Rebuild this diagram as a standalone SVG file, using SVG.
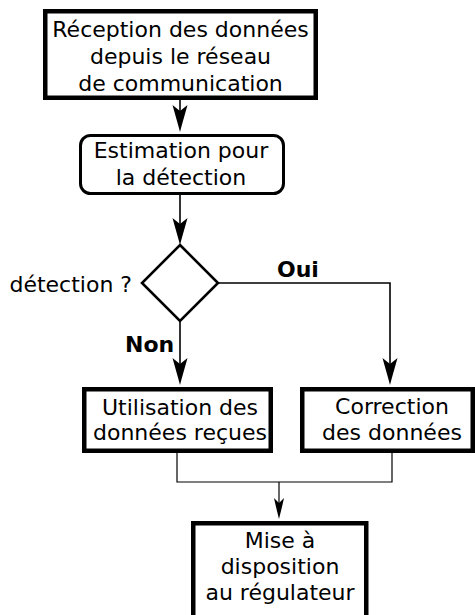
<svg xmlns="http://www.w3.org/2000/svg" width="475" height="615" viewBox="0 0 475 615">
<style>
text{font-family:"DejaVu Sans",sans-serif;font-size:22px;fill:#000;text-anchor:middle}
.lbl{font-weight:bold;text-anchor:start}
.box{fill:#fff;stroke:#000;stroke-width:4.5}
.rbox{fill:#fff;stroke:#000;stroke-width:3}
.dia{fill:#fff;stroke:#000;stroke-width:2.6}
.c{fill:none;stroke:#000;stroke-width:1.6}
.ct{fill:none;stroke:#000;stroke-width:1.2}
</style>
<defs>
<marker id="ah" markerUnits="userSpaceOnUse" orient="auto" refX="0" refY="0" markerWidth="30" markerHeight="20" overflow="visible">
<path d="M10,0 C2,-2 -8,-5 -17,-7.5 L-11,0 L-17,7.5 C-8,5 2,2 10,0 Z" fill="#000"/>
</marker>
<marker id="ahs" markerUnits="userSpaceOnUse" orient="auto" refX="0" refY="0" markerWidth="30" markerHeight="20" overflow="visible">
<path d="M8,0 C2,-1.5 -6,-3.5 -13,-5 L-8,0 L-13,5 C-6,3.5 2,1.5 8,0 Z" fill="#000"/>
</marker>
</defs>
<g id="connectors">
<path class="c" d="M180,100 V122" marker-end="url(#ah)"/>
<path class="c" d="M180,195 V235" marker-end="url(#ah)"/>
<path class="c" d="M180,322 V375" marker-end="url(#ah)"/>
<path class="c" d="M218,283 H390 V375" marker-end="url(#ah)"/>
<path class="ct" d="M177,453 V482 H392 V453"/>
<path class="ct" d="M279,482 V511" marker-end="url(#ahs)"/>
<text class="lbl" x="277" y="277">Oui</text>
<text class="lbl" x="125" y="352">Non</text>
</g>
<g id="reception">
<rect class="box" x="45.25" y="11.25" width="270.5" height="86.5"/>
<text x="180.5" y="37">Réception des données</text>
<text x="180.5" y="64">depuis le réseau</text>
<text x="180.5" y="91">de communication</text>
</g>
<g id="estimation">
<rect class="rbox" x="80.5" y="135.5" width="203" height="58" rx="10"/>
<text x="181" y="158">Estimation pour</text>
<text x="181" y="185">la détection</text>
</g>
<g id="decision">
<polygon class="dia" points="180,245 218,283 180,321 142,283"/>
<text x="132" y="292" style="text-anchor:end">détection ?</text>
</g>
<g id="utilisation">
<rect class="box" x="84.25" y="389.25" width="186.5" height="61.5"/>
<text x="180" y="415">Utilisation des</text>
<text x="180" y="440">données reçues</text>
</g>
<g id="correction">
<rect class="box" x="302.25" y="389.25" width="170.5" height="61.5"/>
<text x="392" y="414">Correction</text>
<text x="392" y="440">des données</text>
</g>
<g id="mise">
<rect class="box" x="193.25" y="523.25" width="173" height="120"/>
<text x="280" y="548">Mise à</text>
<text x="280" y="574">disposition</text>
<text x="280" y="600">au régulateur</text>
</g>
</svg>
